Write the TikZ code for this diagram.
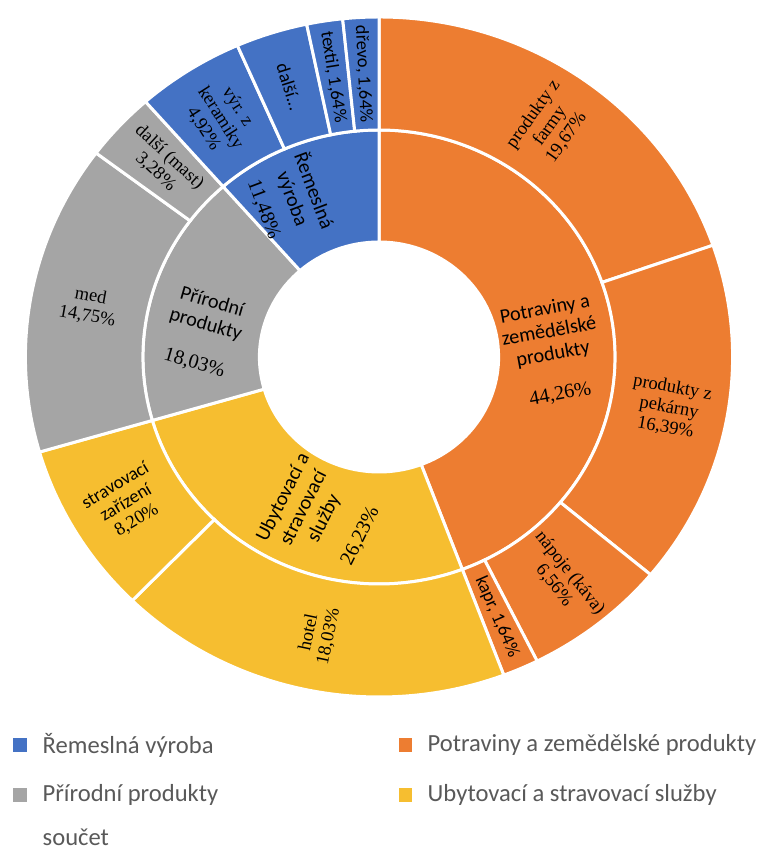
\documentclass[tikz,border=0pt]{standalone}
\usepackage{fontspec}
\setmainfont{Liberation Serif}
\setsansfont{Carlito}
\usepackage{xcolor}
\usetikzlibrary{positioning}

\definecolor{remeslo}{RGB}{68,114,196}
\definecolor{potraviny}{RGB}{237,125,49}
\definecolor{priroda}{RGB}{165,165,165}
\definecolor{ubytovani}{RGB}{246,190,48}
\definecolor{legendtext}{RGB}{89,89,89}

\begin{document}
\begin{tikzpicture}[
  x=0.2mm, y=0.2mm,
  sep/.style={draw=white,line width=1.7pt},
  inlab/.style={align=center,font=\sffamily\fontsize{11.5}{13}\selectfont},
  outlab/.style={align=center,font=\fontsize{10.5}{11.5}\selectfont},
  outsans/.style={align=center,font=\sffamily\fontsize{10.5}{11.5}\selectfont},
  key/.style={minimum size=7.4pt,inner sep=0pt},
  keytext/.style={inner sep=0pt,text=legendtext,font=\sffamily\fontsize{14}{16}\selectfont}
]
\useasboundingbox (0,0) rectangle (760,850);

\begin{scope}[shift={(379,493)},xscale=1.04]
% inner ring
\foreach \a/\b/\c in {0/44.26/potraviny,44.26/70.49/ubytovani,70.49/88.52/priroda,88.52/100/remeslo}
  \filldraw[fill=\c,sep] ({90-3.6*\a}:115) arc[start angle={90-3.6*\a},end angle={90-3.6*\b},radius=115]
    -- ({90-3.6*\b}:227) arc[start angle={90-3.6*\b},end angle={90-3.6*\a},radius=227] -- cycle;
% outer ring
\foreach \a/\b/\c in {0/19.67/potraviny,19.67/36.06/potraviny,36.06/42.62/potraviny,42.62/44.26/potraviny,
    44.26/62.29/ubytovani,62.29/70.49/ubytovani,70.49/85.24/priroda,85.24/88.52/priroda,
    88.52/93.44/remeslo,93.44/96.72/remeslo,96.72/98.36/remeslo,98.36/100/remeslo}
  \filldraw[fill=\c,sep] ({90-3.6*\a}:227) arc[start angle={90-3.6*\a},end angle={90-3.6*\b},radius=227]
    -- ({90-3.6*\b}:340) arc[start angle={90-3.6*\b},end angle={90-3.6*\a},radius=340] -- cycle;

\node[inlab,rotate=10.3] (potr) at (167,5) {Potraviny a\\zemědělské\\produkty\\[10pt]\textrm{44,26\%}};
\node[inlab,rotate=63.4] (ubyt) at (-55,-160) {Ubytovací a\\stravovací\\služby\\[10pt]\textrm{26,23\%}};
\node[inlab,rotate=-16.2] (prir) at (-169,24) {Přírodní\\produkty\\[10pt]\textrm{18,03\%}};
\node[inlab,rotate=-69.3] (reme) at (-86,157) {Řemeslná\\výroba\\[4pt]\textrm{11,48\%}};

\node[outlab,rotate=54.6] (farma) at (54.6:283.5) {produkty z\\farmy\\19,67\%};
\node[outlab,rotate=-10.3] (pekarna) at (-10.3:283.5) {produkty z\\pekárny\\16,39\%};
\node[outlab,rotate=-51.6] (napoje) at (-51.6:283.5) {nápoje (káva)\\6,56\%};
\node[outsans,rotate=-66.4] (kapr) at (-66.4:283.5) {kapr, 1,64\%};
\node[outlab,rotate=78.2] (hotel) at (-101.8:283.5) {hotel\\18,03\%};
\node[outlab,rotate=31] (strav) at (-149:283.5) {\textsf{stravovací}\\\textsf{zařízení}\\8,20\%};
\node[outlab,rotate=-10.3] (med) at (169.7:283.5) {med\\14,75\%};
\node[outlab,rotate=-42.8] (mast) at (137.2:283.5) {další (mast)\\3,28\%};
\node[outlab,rotate=-57.5] (keram) at (122.5:283.5) {výr. z\\keramiky\\4,92\%};
\node[outsans,rotate=-72.3] (dalsi) at (107.7:283.5) {další...};
\node[outsans,rotate=-81.1] (textil) at (98.9:283.5) {textil, 1,64\%};
\node[outsans,rotate=-87] (drevo) at (93:283.5) {dřevo, 1,64\%};
\end{scope}

% legend
\node[key,fill=remeslo] (k1) at (20,105) {};
\node[keytext,right=8.8pt of k1] (t1) {Řemeslná výroba};
\node[key,fill=priroda] (k2) at (20,55) {};
\node[keytext,right=8.8pt of k2] (t2) {Přírodní produkty};
\node[keytext,anchor=west] (t3) at ([yshift=-24pt]t2.west) {součet};
\node[key,fill=potraviny] (k3) at (405,105) {};
\node[keytext,right=8.8pt of k3] (t4) {Potraviny a zemědělské produkty};
\node[key,fill=ubytovani] (k4) at (405,55) {};
\node[keytext,right=8.8pt of k4] (t5) {Ubytovací a stravovací služby};
\end{tikzpicture}
\end{document}
